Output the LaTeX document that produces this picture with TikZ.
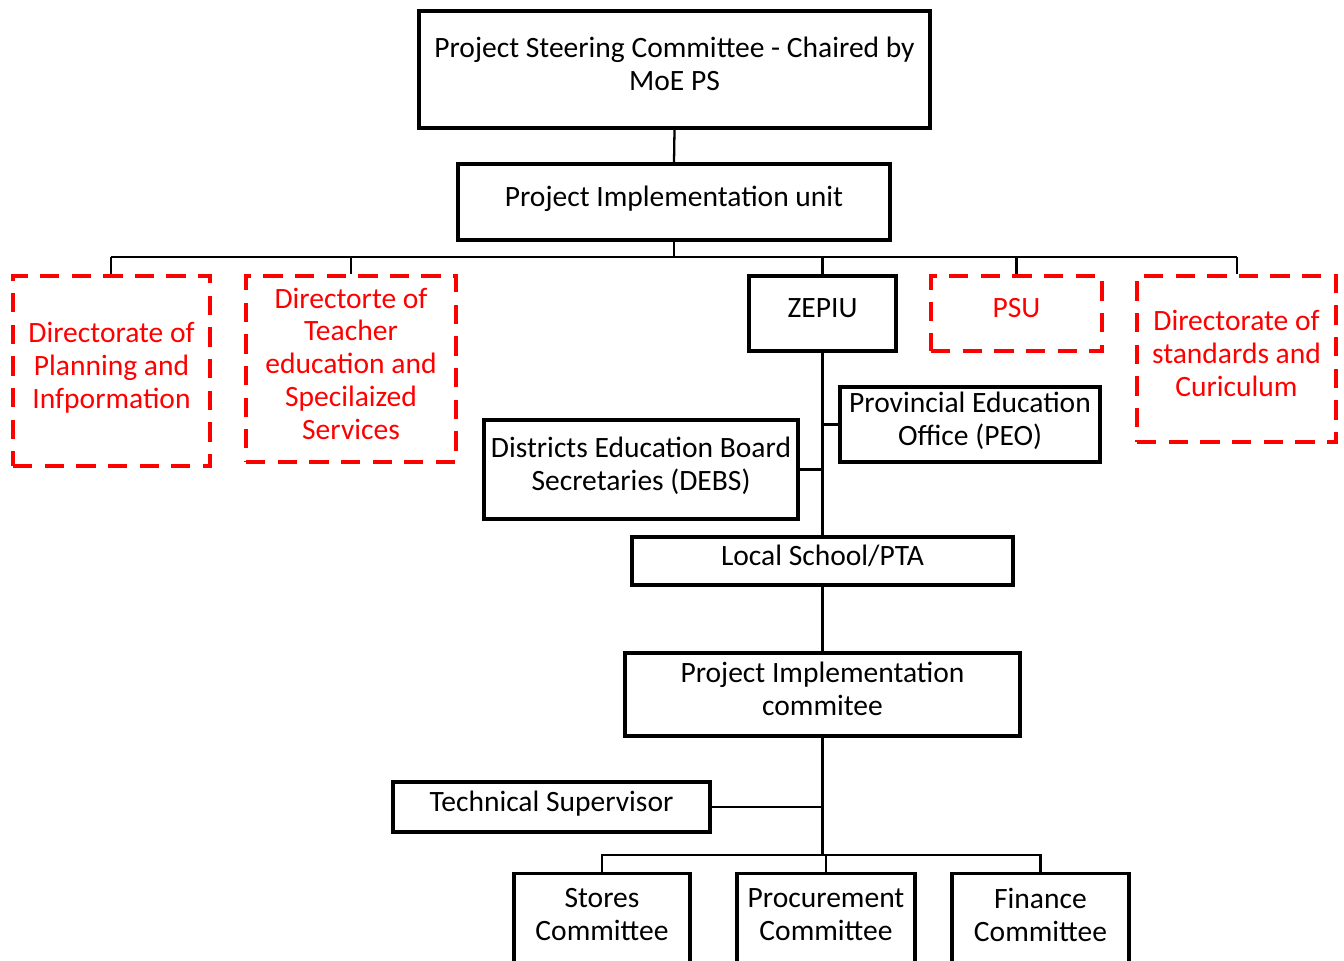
\documentclass[tikz,border=0pt]{standalone}
\usepackage{fontspec}
\setmainfont{Carlito}
\usepackage{tikz}
\definecolor{orgline}{RGB}{0,0,0}
\definecolor{orgred}{RGB}{255,0,0}
\tikzset{
  box/.style  ={draw=orgline, line width=1.8pt, align=center, inner sep=2pt,
                text depth=0.22cm, font=\fontsize{16.8}{18.6}\selectfont},
  dbox/.style ={draw=orgred, text=orgred, line width=2.2pt,
                dash pattern=on 11pt off 7pt, align=center, inner sep=2pt,
                text depth=0.22cm, font=\fontsize{16.8}{18.6}\selectfont},
  con/.style  ={draw=orgline, line width=1.3pt},
}
\begin{document}
\begin{tikzpicture}
  \useasboundingbox (0,0) rectangle (26.88,-19.2);
  \clip (0,0) rectangle (26.88,-19.2);
  \node[box,minimum width=10.22cm,minimum height=2.34cm] (steer) at (13.49,-1.39)
    {Project Steering Committee - Chaired by\\MoE PS};
  \node[box,minimum width=8.64cm,minimum height=1.52cm] (piu) at (13.48,-4.04)
    {Project Implementation unit};
  \node[dbox,minimum width=3.94cm,minimum height=3.80cm] (dpi) at (2.23,-7.42)
    {Directorate of\\Planning and\\Infpormation};
  \node[dbox,minimum width=4.20cm,minimum height=3.72cm] (dte) at (7.02,-7.38)
    {Directorte of\\Teacher\\education and\\Specilaized\\Services};
  \node[box,minimum width=2.94cm,minimum height=1.50cm] (zep) at (16.45,-6.27)
    {ZEPIU};
  \node[dbox,minimum width=3.42cm,minimum height=1.50cm] (psu) at (20.33,-6.27)
    {PSU};
  \node[dbox,minimum width=3.98cm,minimum height=3.32cm] (dsc) at (24.73,-7.18)
    {Directorate of\\standards and\\Curiculum};
  \node[box,minimum width=5.20cm,minimum height=1.50cm] (peo) at (19.40,-8.49)
    {Provincial Education\\Office (PEO)};
  \node[box,minimum width=6.28cm,minimum height=1.98cm] (debs) at (12.82,-9.39)
    {Districts Education Board\\Secretaries (DEBS)};
  \node[box,minimum width=7.62cm,minimum height=0.96cm] (pta) at (16.45,-11.22)
    {Local School/PTA};
  \node[box,minimum width=7.90cm,minimum height=1.66cm] (pic) at (16.45,-13.89)
    {Project Implementation\\commitee};
  \node[box,minimum width=6.34cm,minimum height=1.00cm] (tsv) at (11.03,-16.14)
    {Technical Supervisor};
  \node[box,text depth=0pt,anchor=north,minimum width=3.52cm,minimum height=2.30cm] (sto) at (12.04,-17.44)
    {Stores\\Committee\\\mbox{}};
  \node[box,text depth=0pt,anchor=north,minimum width=3.56cm,minimum height=2.30cm] (pro) at (16.52,-17.44)
    {Procurement\\Committee\\\mbox{}};
  \node[box,text depth=0pt,anchor=north,minimum width=3.54cm,minimum height=2.30cm] (fin) at (20.81,-17.44)
    {Finance\\Committee\\\mbox{}};
  \coordinate (busL) at (2.22,-5.14);
  \coordinate (busR) at (24.74,-5.14);
  \coordinate (cbus) at (16.45,-17.10);
  \draw[con] (steer.south) -- (piu.north);
  \draw[con] (piu.south) -- (piu.south |- busL);
  \draw[con] (busL) -- (busR);
  \draw[con] (busL) -- (busL |- dpi.north);
  \draw[con] (dte.north |- busL) -- (dte.north);
  \draw[con] (zep.north |- busL) -- (zep.north);
  \draw[con] (psu.north |- busL) -- (psu.north);
  \draw[con] (busR) -- (busR |- dsc.north);
  \draw[con] (zep.south) -- (pta.north);
  \draw[con] (peo.west) -- (peo.west -| zep.south);
  \draw[con] (debs.east) -- (debs.east -| zep.south);
  \draw[con] (pta.south) -- (pic.north);
  \draw[con] (pic.south) -- (cbus);
  \draw[con] (tsv.east) -- (tsv.east -| cbus);
  \draw[con] (sto.north) -- (sto.north |- cbus) -- (fin.north |- cbus) -- (fin.north);
  \draw[con] (pro.north |- cbus) -- (pro.north);
\end{tikzpicture}
\end{document}
